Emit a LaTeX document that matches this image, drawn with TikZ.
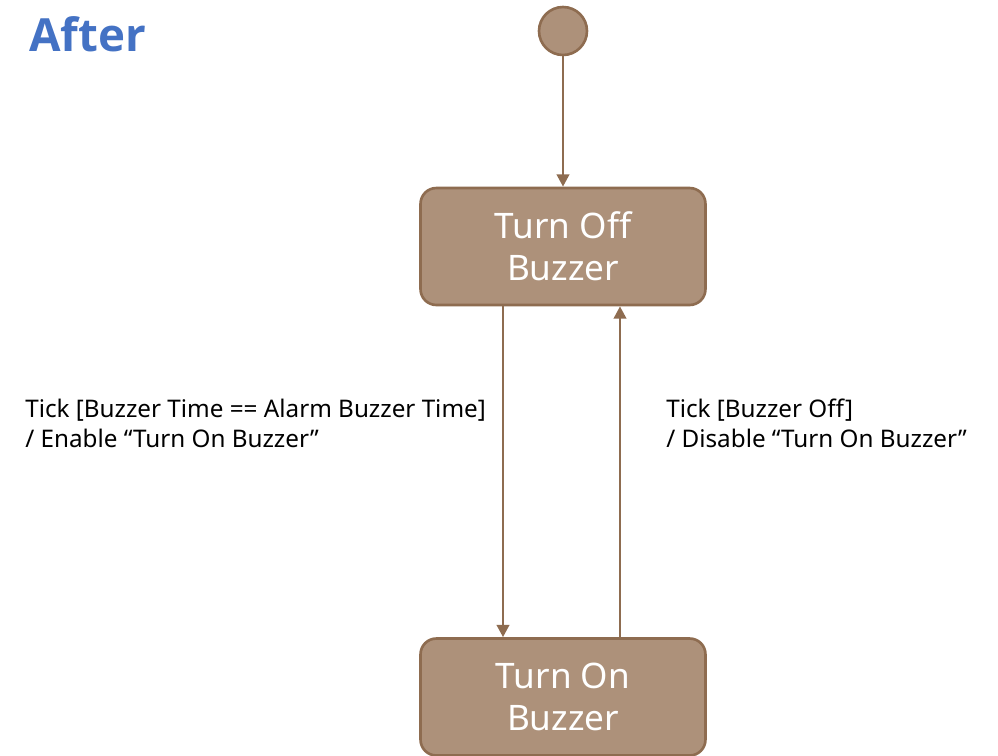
\documentclass[tikz,border=0pt]{standalone}
\usepackage{fontspec}
\setmainfont{Noto Sans}
\newfontfamily\titlefont{Open Sans}
\usetikzlibrary{arrows.meta}
\definecolor{stfill}{RGB}{173,145,122}
\definecolor{stline}{RGB}{142,108,80}
\definecolor{titleblue}{RGB}{68,114,196}
\begin{document}
\begin{tikzpicture}[x=0.02cm,y=-0.02cm]
\tikzstyle{every node}+=[inner sep=0pt]
\tikzstyle{state}=[draw=stline, line width=1.5pt, fill=stfill, rounded corners=9pt, minimum width=5.7cm, minimum height=2.34cm, align=center, text=white, font=\fontsize{20}{24}\selectfont]
\tikzstyle{trans}=[draw=stline, line width=1.6pt, -{Triangle[width=7pt,length=7pt]}]
\tikzstyle{lbl}=[anchor=west, align=left, font=\fontsize{13.8}{17}\selectfont]
\useasboundingbox (0,0) rectangle (998,755);
\node [anchor=west, text=titleblue, font=\titlefont\fontsize{26}{30}\selectfont\bfseries] (title) at (29,34) {After};
\node [circle, draw=stline, line width=1.5pt, fill=stfill, minimum size=0.96cm] (init) at (563,31) {};
\node [state] (off) at (563,246.5) {Turn Off\\Buzzer};
\node [state] (on) at (563,697) {Turn On\\Buzzer};
\draw [trans] (init) -- (off);
\draw [trans] (off.south -| 503,0) -- (on.north -| 503,0);
\draw [trans] (on.north -| 620,0) -- (off.south -| 620,0);
\node [lbl] (enable) at (25,423) {Tick [Buzzer Time == Alarm Buzzer Time]\\/ Enable “Turn On Buzzer”};
\node [lbl] (disable) at (666,423) {Tick [Buzzer Off]\\/ Disable “Turn On Buzzer”};
\end{tikzpicture}
\end{document}
